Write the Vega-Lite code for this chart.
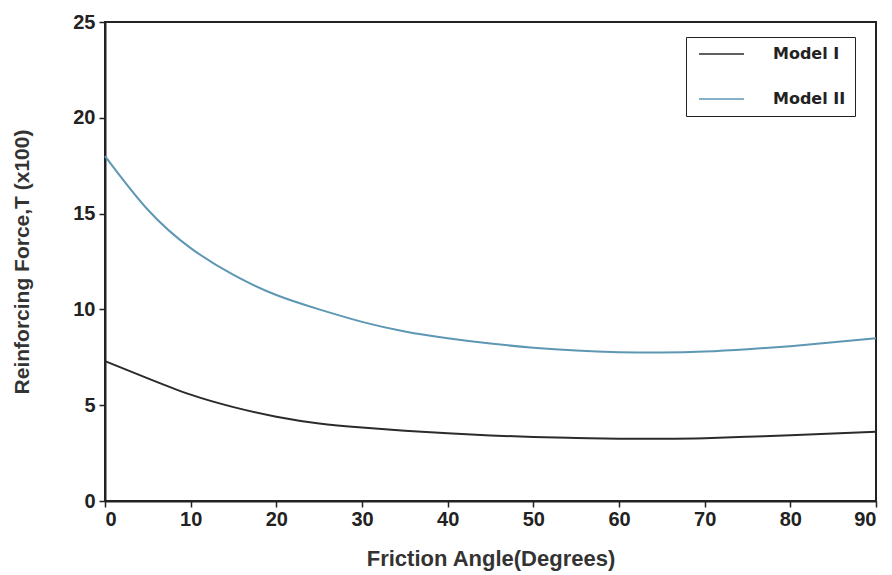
{
  "$schema": "https://vega.github.io/schema/vega-lite/v6.json",
  "autosize": "none",
  "width": 771,
  "height": 479,
  "padding": {"left": 105, "top": 22, "right": 15, "bottom": 74},
  "background": "white",
  "config": {
    "view": {"stroke": "#222", "strokeWidth": 2},
    "font": "Liberation Sans",
    "axis": {
      "grid": false,
      "domainColor": "#222",
      "domainWidth": 2,
      "tickColor": "#222",
      "tickWidth": 1.5,
      "tickSize": 6,
      "labelFont": "Liberation Sans",
      "labelFontWeight": "bold",
      "labelFontSize": 20,
      "labelColor": "#222",
      "titleFont": "Liberation Sans",
      "titleFontWeight": "bold",
      "titleColor": "#333",
      "titleFontSize": 21
    }
  },
  "data": {
    "values": [
      {"angle": 0, "T": 7.3, "model": "Model I"},
      {"angle": 5, "T": 6.4, "model": "Model I"},
      {"angle": 10, "T": 5.55, "model": "Model I"},
      {"angle": 15, "T": 4.9, "model": "Model I"},
      {"angle": 20, "T": 4.4, "model": "Model I"},
      {"angle": 25, "T": 4.05, "model": "Model I"},
      {"angle": 30, "T": 3.84, "model": "Model I"},
      {"angle": 35, "T": 3.67, "model": "Model I"},
      {"angle": 40, "T": 3.53, "model": "Model I"},
      {"angle": 45, "T": 3.42, "model": "Model I"},
      {"angle": 50, "T": 3.34, "model": "Model I"},
      {"angle": 55, "T": 3.29, "model": "Model I"},
      {"angle": 60, "T": 3.25, "model": "Model I"},
      {"angle": 65, "T": 3.25, "model": "Model I"},
      {"angle": 70, "T": 3.28, "model": "Model I"},
      {"angle": 75, "T": 3.35, "model": "Model I"},
      {"angle": 80, "T": 3.43, "model": "Model I"},
      {"angle": 85, "T": 3.52, "model": "Model I"},
      {"angle": 90, "T": 3.62, "model": "Model I"},
      {"angle": 0, "T": 18.0, "model": "Model II"},
      {"angle": 5, "T": 15.2, "model": "Model II"},
      {"angle": 10, "T": 13.2, "model": "Model II"},
      {"angle": 15, "T": 11.8, "model": "Model II"},
      {"angle": 20, "T": 10.75, "model": "Model II"},
      {"angle": 25, "T": 10.0, "model": "Model II"},
      {"angle": 30, "T": 9.35, "model": "Model II"},
      {"angle": 35, "T": 8.85, "model": "Model II"},
      {"angle": 40, "T": 8.5, "model": "Model II"},
      {"angle": 45, "T": 8.22, "model": "Model II"},
      {"angle": 50, "T": 8.0, "model": "Model II"},
      {"angle": 55, "T": 7.85, "model": "Model II"},
      {"angle": 60, "T": 7.77, "model": "Model II"},
      {"angle": 65, "T": 7.75, "model": "Model II"},
      {"angle": 70, "T": 7.8, "model": "Model II"},
      {"angle": 75, "T": 7.92, "model": "Model II"},
      {"angle": 80, "T": 8.08, "model": "Model II"},
      {"angle": 85, "T": 8.28, "model": "Model II"},
      {"angle": 90, "T": 8.5, "model": "Model II"}
    ]
  },
  "mark": {"type": "line", "interpolate": "natural", "strokeWidth": 2},
  "encoding": {
    "x": {
      "field": "angle",
      "type": "quantitative",
      "scale": {"domain": [0, 90], "nice": false},
      "axis": {"title": "Friction Angle(Degrees)", "titleFontSize": 22, "values": [0, 10, 20, 30, 40, 50, 60, 70, 80, 90], "labelPadding": 2, "titlePadding": 19}
    },
    "y": {
      "field": "T",
      "type": "quantitative",
      "scale": {"domain": [0, 25], "nice": false},
      "axis": {"title": "Reinforcing Force,T (x100)", "values": [0, 5, 10, 15, 20, 25], "labelPadding": 4, "titlePadding": 40}
    },
    "color": {
      "field": "model",
      "type": "nominal",
      "scale": {"domain": ["Model I", "Model II"], "range": ["#2b2b2b", "#5e97b3"]},
      "legend": {
        "title": null,
        "orient": "none",
        "legendX": 581,
        "legendY": 15,
        "strokeColor": "#222",
        "padding": 9,
        "symbolType": "M-0.8,0H8.2",
        "symbolSize": 100,
        "symbolStrokeWidth": 1.5,
        "symbolFillColor": "transparent",
        "labelFont": "DejaVu Sans",
        "labelFontWeight": "bold",
        "labelFontSize": 16,
        "labelColor": "#222",
        "labelOffset": 62,
        "rowPadding": 29
      }
    }
  }
}
